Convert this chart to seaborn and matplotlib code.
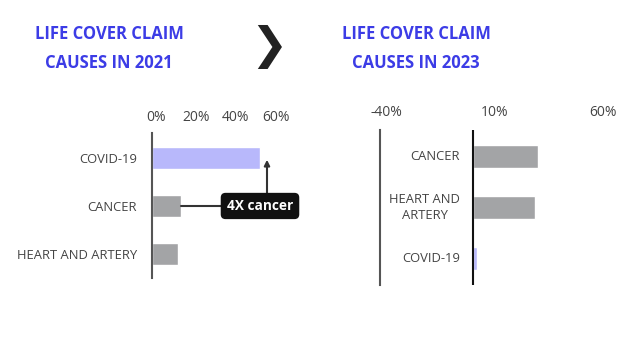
import matplotlib
matplotlib.use("Agg")
import matplotlib.pyplot as plt
import matplotlib.transforms as mtransforms
import seaborn as sns
import pandas as pd

sns.set_style("white")
plt.rcParams['font.family'] = ['Open Sans', 'DejaVu Sans']

# Data
cats_2021 = ["COVID-19", "CANCER", "HEART AND ARTERY"]
vals_2021 = [54, 14.5, 13]
cats_2023 = ["CANCER", "HEART AND\nARTERY", "COVID-19"]
vals_2023 = [30, 28.5, 2]
ticks_2021 = [0, 20, 40, 60]
ticks_2023 = [-40, 10, 60]
title_2021 = "LIFE COVER CLAIM\nCAUSES IN 2021"
title_2023 = "LIFE COVER CLAIM\nCAUSES IN 2023"
callout = "4X cancer"

W, H = 637, 361
COVID_C = "#b8b8fb"
GRAY_C = "#a3a4a6"
TITLE_C = "#3c3ce6"
LABEL_C = "#444444"

fig = plt.figure(figsize=(W / 100, H / 100), dpi=100)

def px_axes(l, t, r, b):
    return fig.add_axes([l / W, (H - b) / H, (r - l) / W, (b - t) / H])

# ---------- Left chart ----------
ax1 = px_axes(152, 133, 276, 278)
df1 = pd.DataFrame({"cat": cats_2021, "val": vals_2021})
pal1 = {c: (COVID_C if c == "COVID-19" else GRAY_C) for c in cats_2021}
sns.barplot(data=df1, x="val", y="cat", hue="cat", palette=pal1, orient="h",
            width=0.46, ax=ax1, legend=False, saturation=1)
ax1.set_xlim(0, 62)
ax1.set_ylim(2.5, -0.52)
ax1.set_xlabel("")
ax1.set_ylabel("")
ax1.xaxis.tick_top()
ax1.set_xticks(ticks_2021)
ax1.set_xticklabels([f"{t}%" for t in ticks_2021])
ax1.tick_params(axis="x", length=0, pad=6, labelsize=10, labelcolor=LABEL_C)
ax1.tick_params(axis="y", length=0, pad=11, labelsize=9.4, labelcolor=LABEL_C)
shift = mtransforms.ScaledTranslation(4 / 100, 0, fig.dpi_scale_trans)
for lab in ax1.get_xticklabels():
    lab.set_transform(lab.get_transform() + shift)
for s in ["top", "right", "bottom"]:
    ax1.spines[s].set_visible(False)
ax1.spines["left"].set_color("#555555")
ax1.spines["left"].set_linewidth(1.5)

# Callout
ax1.plot([vals_2021[1], 35], [1, 1], color="#333333", lw=1.5, clip_on=False, zorder=3)
ax1.annotate("", xy=(57.5, -0.02), xytext=(57.5, 0.8),
             arrowprops=dict(arrowstyle="-|>", color="#333333", lw=1.5,
                             mutation_scale=8), annotation_clip=False)
ax1.text(54, 1.0, callout, ha="center", va="center", color="white",
         fontsize=9.8, fontweight="bold", zorder=5,
         bbox=dict(boxstyle="round,pad=0.4,rounding_size=0.3",
                   fc="#111111", ec="#111111"))

# ---------- Right chart ----------
ax2 = px_axes(380, 130, 603, 285)
df2 = pd.DataFrame({"cat": cats_2023, "val": vals_2023})
pal2 = {c: (COVID_C if c == "COVID-19" else GRAY_C) for c in cats_2023}
sns.barplot(data=df2, x="val", y="cat", hue="cat", palette=pal2, orient="h",
            width=0.46, ax=ax2, legend=False, saturation=1)
ax2.set_xlim(-43, 60.2)
ax2.set_ylim(2.53, -0.53)
ax2.set_xlabel("")
ax2.set_ylabel("")
ax2.xaxis.tick_top()
ax2.set_xticks(ticks_2023)
ax2.set_xticklabels([f"{t}%" for t in ticks_2023])
ax2.tick_params(axis="x", length=0, pad=7, labelsize=10, labelcolor=LABEL_C)
ax2.set_yticks([])
for s in ["top", "right", "bottom"]:
    ax2.spines[s].set_visible(False)
ax2.spines["left"].set_color("#555555")
ax2.spines["left"].set_linewidth(1.5)
ax2.axvline(0, color="#111111", lw=1.5, zorder=4)
for i, c in enumerate(cats_2023):
    ax2.text(-6, i, c, ha="right", va="center", multialignment="center",
             fontsize=9.4, color=LABEL_C, linespacing=1.35)

# ---------- Titles ----------
tfont = dict(family=["Open Sans", "DejaVu Sans"],
             fontweight="bold", color=TITLE_C, fontsize=12,
             ha="center", va="center", linespacing=1.75)
fig.text(109 / W, 1 - 48.5 / H, title_2021, **tfont)
fig.text(416 / W, 1 - 48.5 / H, title_2023, **tfont)
fig.text(269 / W, 1 - 47 / H, "\u276F", ha="center", va="center",
         fontsize=32, color="#222222", family=["DejaVu Sans"])

fig.savefig("out.png", dpi=100, facecolor="white")
